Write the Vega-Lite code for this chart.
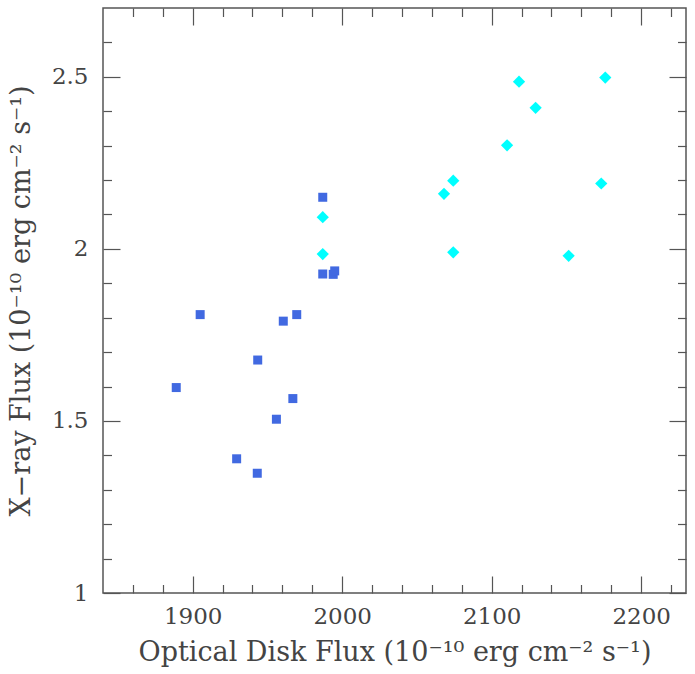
{
  "$schema": "https://vega.github.io/schema/vega-lite/v6.json",
  "width": 583,
  "height": 585,
  "autosize": "none",
  "padding": {"left": 103, "top": 8, "right": 9, "bottom": 81},
  "background": "white",
  "config": {
    "view": {"stroke": "#555", "strokeWidth": 1.5},
    "axis": {
      "domain": false,
      "grid": false,
      "tickColor": "#555",
      "tickWidth": 1.2,
      "labelFont": "DejaVu Serif",
      "labelFontSize": 23,
      "labelColor": "#444",
      "titleFont": "DejaVu Serif",
      "titleFontSize": 27,
      "titleFontWeight": "normal",
      "titleColor": "#444"
    }
  },
  "datasets": {
    "blue": [
      {"optical": 1987, "xray": 2.150},
      {"optical": 1987, "xray": 1.927},
      {"optical": 1994, "xray": 1.926},
      {"optical": 1995, "xray": 1.936},
      {"optical": 1905, "xray": 1.809},
      {"optical": 1969.6, "xray": 1.809},
      {"optical": 1960.6, "xray": 1.790},
      {"optical": 1943.5, "xray": 1.677},
      {"optical": 1889, "xray": 1.597},
      {"optical": 1967, "xray": 1.565},
      {"optical": 1956, "xray": 1.505},
      {"optical": 1929.4, "xray": 1.390},
      {"optical": 1943.2, "xray": 1.348}
    ],
    "cyan": [
      {"optical": 2118.3, "xray": 2.486},
      {"optical": 2176, "xray": 2.498},
      {"optical": 2129.4, "xray": 2.410},
      {"optical": 2110.3, "xray": 2.301},
      {"optical": 2074.3, "xray": 2.198},
      {"optical": 2068.1, "xray": 2.160},
      {"optical": 2173.3, "xray": 2.190},
      {"optical": 1987, "xray": 2.092},
      {"optical": 1987, "xray": 1.985},
      {"optical": 2074.3, "xray": 1.990},
      {"optical": 2151.5, "xray": 1.980}
    ]
  },
  "layer": [
    {
      "data": {"name": "blue"},
      "mark": {"type": "point", "shape": "square", "filled": true, "size": 81, "color": "#4169e1", "opacity": 1},
      "encoding": {
        "x": {
          "field": "optical", "type": "quantitative",
          "scale": {"domain": [1840, 2230], "nice": false, "zero": false},
          "axis": {
            "orient": "bottom",
            "values": [1900, 2000, 2100, 2200],
            "format": "d",
            "tickSize": -17,
            "labelPadding": 29,
            "title": "Optical Disk Flux (10⁻¹⁰ erg cm⁻² s⁻¹)",
            "titlePadding": 11
          }
        },
        "y": {
          "field": "xray", "type": "quantitative",
          "scale": {"domain": [1, 2.7], "nice": false, "zero": false},
          "axis": {
            "orient": "left",
            "values": [1, 1.5, 2, 2.5],
            "format": "~g",
            "tickSize": -17,
            "labelPadding": 32,
            "title": "X−ray Flux (10⁻¹⁰ erg cm⁻² s⁻¹)",
            "titlePadding": 16
          }
        }
      }
    },
    {
      "data": {"name": "cyan"},
      "mark": {"type": "point", "shape": "diamond", "filled": true, "size": 150, "color": "#00ffff", "opacity": 1},
      "encoding": {
        "x": {
          "field": "optical", "type": "quantitative",
          "scale": {"domain": [1840, 2230], "nice": false, "zero": false},
          "axis": {"orient": "top", "values": [1900, 2000, 2100, 2200], "tickSize": -17, "labels": false, "title": null}
        },
        "y": {
          "field": "xray", "type": "quantitative",
          "scale": {"domain": [1, 2.7], "nice": false, "zero": false},
          "axis": {"orient": "right", "values": [1, 1.5, 2, 2.5], "tickSize": -17, "labels": false, "title": null}
        }
      }
    },
    {
      "data": {"name": "blue"},
      "mark": {"type": "point", "opacity": 0},
      "encoding": {
        "x": {
          "field": "optical", "type": "quantitative",
          "scale": {"domain": [1840, 2230], "nice": false, "zero": false},
          "axis": {"orient": "bottom", "values": [1860, 1880, 1920, 1940, 1960, 1980, 2020, 2040, 2060, 2080, 2120, 2140, 2160, 2180, 2220], "tickSize": -8.5, "labels": false, "title": null}
        },
        "y": {
          "field": "xray", "type": "quantitative",
          "scale": {"domain": [1, 2.7], "nice": false, "zero": false},
          "axis": {"orient": "left", "values": [1.1, 1.2, 1.3, 1.4, 1.6, 1.7, 1.8, 1.9, 2.1, 2.2, 2.3, 2.4, 2.6], "tickSize": -8.5, "labels": false, "title": null}
        }
      }
    },
    {
      "data": {"name": "blue"},
      "mark": {"type": "point", "opacity": 0},
      "encoding": {
        "x": {
          "field": "optical", "type": "quantitative",
          "scale": {"domain": [1840, 2230], "nice": false, "zero": false},
          "axis": {"orient": "top", "values": [1860, 1880, 1920, 1940, 1960, 1980, 2020, 2040, 2060, 2080, 2120, 2140, 2160, 2180, 2220], "tickSize": -8.5, "labels": false, "title": null}
        },
        "y": {
          "field": "xray", "type": "quantitative",
          "scale": {"domain": [1, 2.7], "nice": false, "zero": false},
          "axis": {"orient": "right", "values": [1.1, 1.2, 1.3, 1.4, 1.6, 1.7, 1.8, 1.9, 2.1, 2.2, 2.3, 2.4, 2.6], "tickSize": -8.5, "labels": false, "title": null}
        }
      }
    }
  ],
  "resolve": {"axis": {"x": "independent", "y": "independent"}}
}
